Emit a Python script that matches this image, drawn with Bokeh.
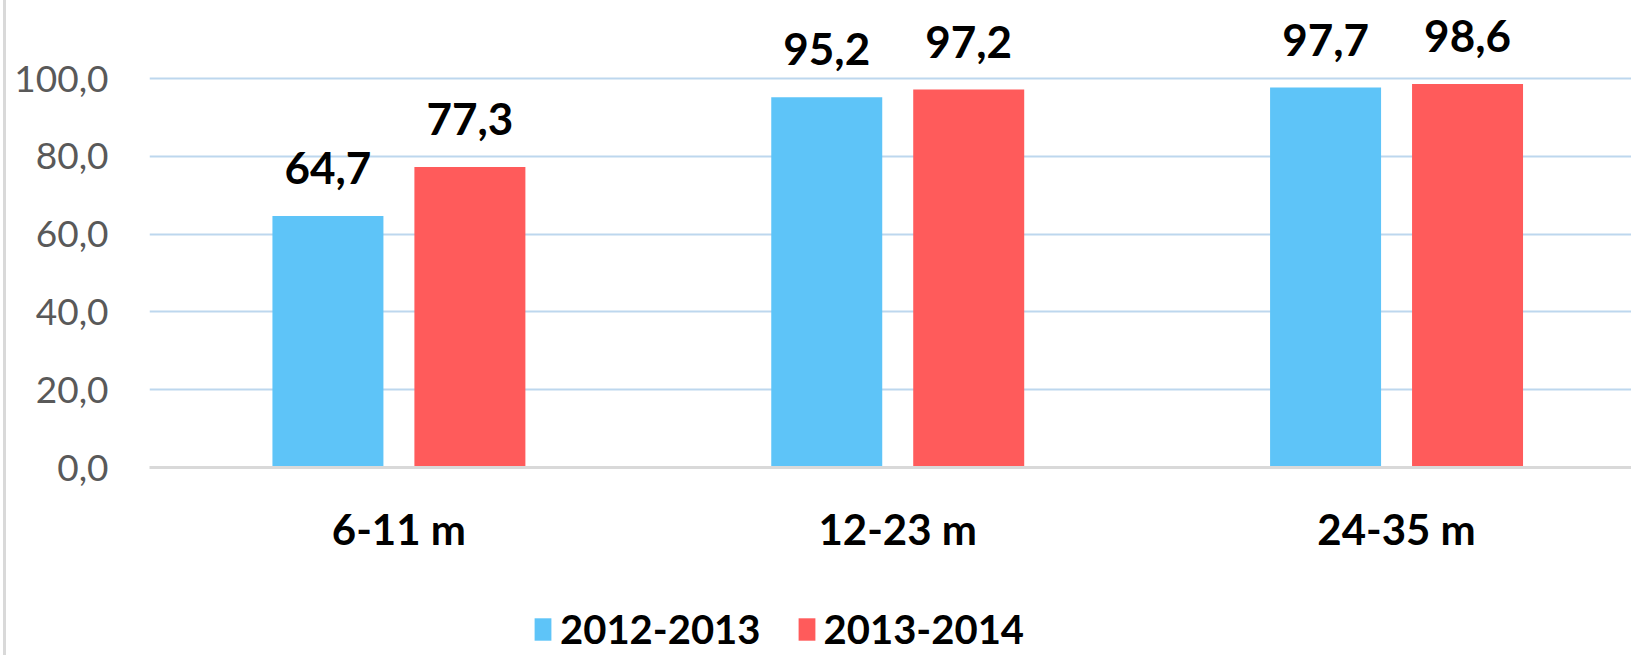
from bokeh.plotting import figure
from bokeh.layouts import column
from bokeh.models import ColumnDataSource, FixedTicker, Legend, LegendItem, Range1d
from bokeh.core.properties import value
from bokeh.embed import file_html
from bokeh.resources import INLINE

categories = ["6-11 m", "12-23 m", "24-35 m"]
series_names = ["2012-2013", "2013-2014"]
values_2012_2013 = [64.7, 95.2, 97.7]
values_2013_2014 = [77.3, 97.2, 98.6]
y_ticks = [0, 20, 40, 60, 80, 100]
colors = ["#5EC4F8", "#FF5B5B"]


def fmt(v):
    return f"{v:.1f}".replace(".", ",")


centers = [i + 0.5 for i in range(len(categories))]
offset = 0.1423
bar_w = 0.2225

p = figure(
    width=1625, height=590,
    x_range=Range1d(0, 2.971), y_range=Range1d(0, 120.1),
    output_backend="svg", toolbar_location=None,
    min_border_left=143, min_border_right=0, min_border_top=0, min_border_bottom=123,
    background_fill_color="white", border_fill_color="white",
)
p.outline_line_color = None

sources = []
for k, (vals, name) in enumerate(zip([values_2012_2013, values_2013_2014], series_names)):
    xs = [c + (-offset if k == 0 else offset) for c in centers]
    src = ColumnDataSource(dict(x=xs, top=vals, lab=[fmt(v) for v in vals]))
    sources.append(src)
    p.vbar(x="x", top="top", width=bar_w, source=src, fill_color=colors[k], line_color=None)
    p.text(x="x", y="top", text="lab", source=src, y_offset=-48,
           text_align="center", text_baseline="alphabetic",
           text_font=value("Lato"), text_font_style="bold", text_font_size="44px",
           text_color="black")

# y axis
p.yaxis.ticker = FixedTicker(ticks=y_ticks)
p.yaxis.major_label_overrides = {t: fmt(t) for t in y_ticks}
p.yaxis.axis_line_color = None
p.yaxis.major_tick_line_color = None
p.yaxis.minor_tick_line_color = None
p.yaxis.major_tick_in = 0
p.yaxis.major_tick_out = 0
p.yaxis.major_label_standoff = 41
p.yaxis.major_label_text_font = "Lato"
p.yaxis.major_label_text_font_size = "37px"
p.yaxis.major_label_text_color = "#595959"

# x axis
p.xaxis.ticker = FixedTicker(ticks=centers)
p.xaxis.major_label_overrides = {c: n for c, n in zip(centers, categories)}
p.xaxis.axis_line_color = "#d9d9d9"
p.xaxis.axis_line_width = 3
p.xaxis.major_tick_line_color = None
p.xaxis.minor_tick_line_color = None
p.xaxis.major_tick_in = 0
p.xaxis.major_tick_out = 0
p.xaxis.major_label_standoff = 36
p.xaxis.major_label_text_font = "Lato"
p.xaxis.major_label_text_font_style = "bold"
p.xaxis.major_label_text_font_size = "42px"
p.xaxis.major_label_text_color = "black"

p.xgrid.grid_line_color = None
p.ygrid.ticker = FixedTicker(ticks=y_ticks)
p.ygrid.grid_line_color = "#BDD7EE"
p.ygrid.grid_line_width = 2

# legend strip below the chart (hidden renderers, only legend swatches show)
p2 = figure(
    width=1625, height=65,
    x_range=Range1d(0, 2.971), y_range=Range1d(0, 120.1),
    output_backend="svg", toolbar_location=None,
    min_border_left=143, min_border_right=0, min_border_top=0, min_border_bottom=0,
    background_fill_color="white", border_fill_color="white",
)
p2.outline_line_color = None
p2.axis.visible = False
p2.grid.visible = False
swatches = [p2.vbar(x="x", top="top", width=bar_w, source=s, fill_color=c, line_color=None,
                    visible=False)
            for s, c in zip(sources, colors)]

legend = Legend(
    items=[LegendItem(label=n, renderers=[r]) for n, r in zip(series_names, swatches)],
    orientation="horizontal", location=(383, 2),
    glyph_width=21, glyph_height=28, label_standoff=7, spacing=35,
    padding=0, margin=0, border_line_color=None, background_fill_alpha=0,
    inactive_fill_alpha=0,
    label_text_font="Lato", label_text_font_style="bold", label_text_font_size="40px",
    label_text_color="black",
)
p2.add_layout(legend, "center")

layout = column(p, p2, spacing=0,
                styles={"border-left": "3px solid #d9d9d9", "margin-left": "3px"})
open("out.html", "w").write(file_html(layout, INLINE))
